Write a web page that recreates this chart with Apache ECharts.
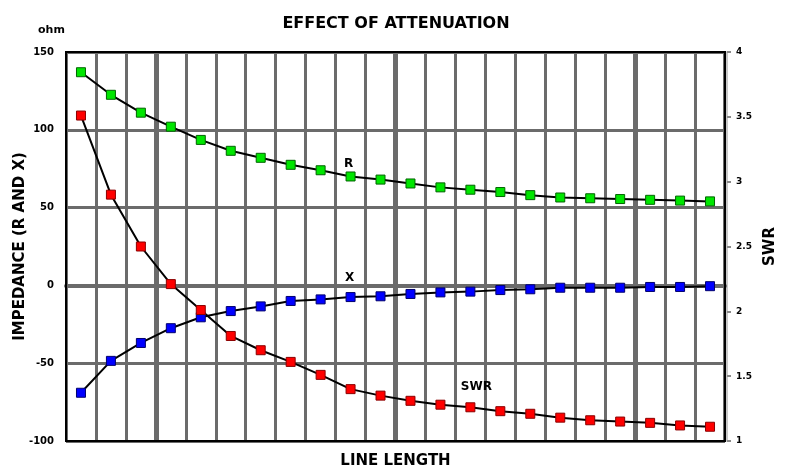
<!DOCTYPE html>
<html>
<head>
<meta charset="utf-8">
<script src="https://cdn.jsdelivr.net/npm/echarts@6/dist/echarts.min.js"></script>
<style>
  html, body { margin: 0; padding: 0; background: #fff; }
  #chart { width: 792px; height: 468px; }
</style>
</head>
<body>
<div id="chart"></div>
<script>
// Line length steps (no tick labels are shown on this axis)
const steps = ['1', '2', '3', '4', '5', '6', '7', '8', '9', '10', '11',
               '12', '13', '14', '15', '16', '17', '18', '19', '20', '21', '22'];

// Resistance R (ohm)
const resistance = [137, 122.5, 111, 102, 93.5, 86.5, 82, 77.5, 74, 70, 68,
                    65.5, 63, 61.5, 60, 58, 56.5, 56, 55.5, 55, 54.5, 54];

// Reactance X (ohm)
const reactance = [-69, -48.5, -37, -27.5, -20.5, -16.5, -13.5, -10, -9, -7.5, -7,
                   -5.5, -4.5, -4, -3, -2.5, -1.5, -1.5, -1.5, -1, -1, -0.5];

// Standing wave ratio
const swr = [3.51, 2.90, 2.50, 2.21, 2.01, 1.81, 1.70, 1.61, 1.51, 1.40, 1.35,
             1.31, 1.28, 1.26, 1.23, 1.21, 1.18, 1.16, 1.15, 1.14, 1.12, 1.11];

// Tick settings
const impedanceTicks = { min: -100, max: 150, interval: 50 };
const swrTicks = { min: 1, max: 4, interval: 0.5 };

// Curve annotations: [name, step index, value]
const curveNotes = {
  R: ['R', 9, 78],
  X: ['X', 9, 4.6],
  SWR: ['SWR', 13, 1.42]
};

const BOLD = 'DejaVu Sans';

function note(entry, offset) {
  return {
    symbol: 'circle',
    symbolSize: 0,
    silent: true,
    label: {
      show: true,
      position: 'inside',
      offset: offset,
      color: '#000',
      fontFamily: BOLD,
      fontWeight: 'bold',
      fontSize: 12
    },
    data: [{ coord: [entry[1], entry[2]], value: entry[0],
             label: { formatter: entry[0] } }]
  };
}

function curve(name, data, axis, fill, edge, mark) {
  return {
    name: name,
    type: 'line',
    yAxisIndex: axis,
    data: data,
    symbol: 'rect',
    symbolSize: 9,
    showAllSymbol: true,
    lineStyle: { color: '#000', width: 2 },
    itemStyle: { color: fill, borderColor: edge, borderWidth: 1 },
    emphasis: { disabled: true },
    animation: false,
    z: 3,
    markPoint: mark
  };
}

const chart = echarts.init(document.getElementById('chart'), null, { renderer: 'canvas' });

chart.setOption({
  backgroundColor: '#fff',
  animation: false,
  title: [
    {
      text: 'EFFECT OF ATTENUATION',
      left: 'center',
      top: 11,
      textStyle: { fontFamily: BOLD, fontWeight: 'bold', fontSize: 16, color: '#000' }
    },
    {
      text: 'ohm',
      left: 33,
      top: 20,
      textStyle: { fontFamily: BOLD, fontWeight: 'bold', fontSize: 11, color: '#000' }
    }
  ],
  grid: {
    left: 66, right: 67, top: 52, bottom: 27,
    outerBoundsMode: 'none',
    containLabel: false,
    show: true,
    z: 1,
    backgroundColor: 'transparent',
    borderColor: '#000',
    borderWidth: 2
  },
  xAxis: [
    {
      type: 'category',
      data: steps,
      boundaryGap: true,
      position: 'bottom',
      name: 'LINE LENGTH',
      nameLocation: 'middle',
      nameGap: 13,
      nameMoveOverlap: false,
      nameTextStyle: { fontFamily: BOLD, fontWeight: 'bold', fontSize: 15, color: '#000' },
      axisLine: { show: false, onZero: false },
      axisTick: { show: false },
      axisLabel: { show: false },
      splitLine: { show: true, interval: 0, lineStyle: { color: '#6b6b6b', width: 3 } }
    },
    {
      // heavier division lines and the zero line of the impedance scale
      type: 'category',
      data: steps,
      boundaryGap: true,
      position: 'top',
      axisLine: { show: true, onZero: true, onZeroAxisIndex: 0,
                  lineStyle: { color: '#6b6b6b', width: 4 } },
      axisTick: { show: false },
      axisLabel: { show: false },
      splitLine: {
        show: true,
        interval: function (i) { return i === 3 || i === 11 || i === 19; },
        lineStyle: { color: '#6b6b6b', width: 5 }
      }
    }
  ],
  yAxis: [
    {
      type: 'value',
      position: 'left',
      min: impedanceTicks.min,
      max: impedanceTicks.max,
      interval: impedanceTicks.interval,
      name: 'IMPEDANCE (R AND X)',
      nameLocation: 'middle',
      nameGap: 38,
      nameMoveOverlap: false,
      nameTextStyle: { fontFamily: BOLD, fontWeight: 'bold', fontSize: 15, color: '#000' },
      axisLine: { show: false },
      axisTick: { show: false },
      axisLabel: { margin: 12, color: '#000', fontFamily: BOLD, fontWeight: 'bold', fontSize: 10 },
      splitLine: { show: true, lineStyle: { color: '#6b6b6b', width: 3 } }
    },
    {
      type: 'value',
      position: 'right',
      offset: 2,
      min: swrTicks.min,
      max: swrTicks.max,
      interval: swrTicks.interval,
      name: 'SWR',
      nameLocation: 'middle',
      nameGap: 36,
      nameMoveOverlap: false,
      nameTextStyle: { fontFamily: BOLD, fontWeight: 'bold', fontSize: 15, color: '#000' },
      axisLine: { show: true, lineStyle: { color: '#c8c8c8', width: 2 } },
      axisTick: { show: true, length: 4, lineStyle: { color: '#8a8a8a', width: 2 } },
      axisLabel: { margin: 9, color: '#000', fontFamily: BOLD, fontWeight: 'bold', fontSize: 9 },
      splitLine: { show: false }
    }
  ],
  series: [
    curve('R', resistance, 0, '#00e600', '#006400', note(curveNotes.R, [-2, 0])),
    curve('X', reactance, 0, '#0000ff', '#00006e', note(curveNotes.X, [-1, 0])),
    curve('SWR', swr, 1, '#ff0000', '#8b0000', note(curveNotes.SWR, [6, 0]))
  ]
});
</script>
</body>
</html>
